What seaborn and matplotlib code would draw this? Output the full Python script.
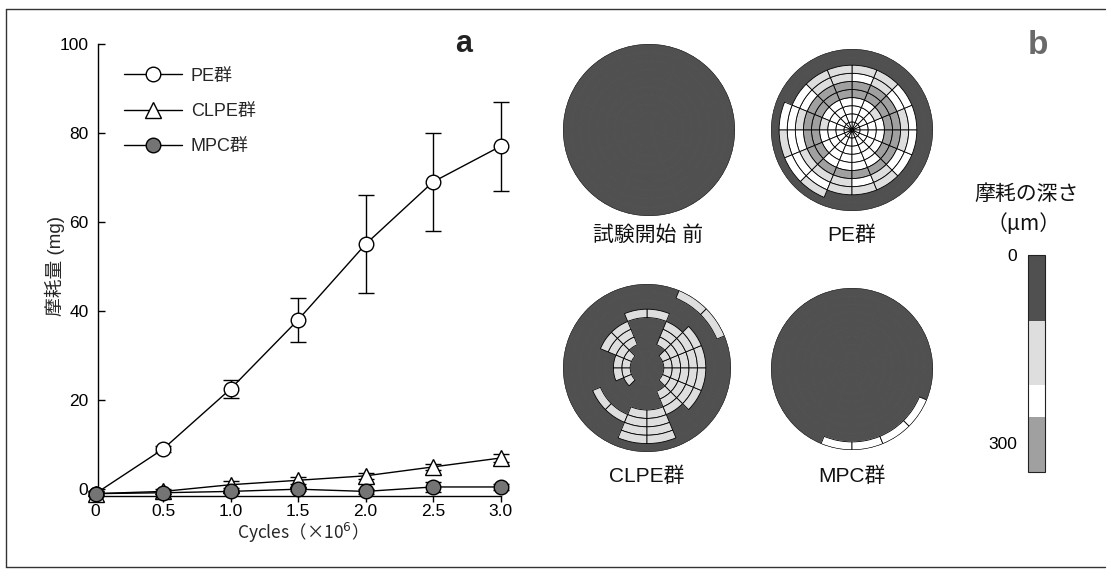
import numpy as np
import pandas as pd
import seaborn as sns
import matplotlib.pyplot as plt
from matplotlib.colors import ListedColormap, BoundaryNorm
from matplotlib.lines import Line2D

# --- panel a: wear amount vs cycles ---
cycles = [0, 0.5, 1.0, 1.5, 2.0, 2.5, 3.0]
groups = ['PE群', 'CLPE群', 'MPC群']
pe_mean = [-1.0, 9.0, 22.5, 38.0, 55.0, 69.0, 77.0]
pe_err = [0.5, 0.6, 2.0, 5.0, 11.0, 11.0, 10.0]
clpe_mean = [-1.0, -0.5, 1.0, 2.0, 3.0, 5.0, 7.0]
clpe_err = [0.5, 0.6, 0.8, 0.8, 0.6, 0.7, 0.8]
mpc_mean = [-1.0, -0.8, -0.5, 0.0, -0.5, 0.5, 0.5]
mpc_err = [0.3, 0.3, 0.4, 0.5, 0.5, 1.2, 0.6]

# --- panel b: wear depth maps (rings from centre out, 16 sectors ccw from east) ---
# d = 0-105 um, l = 105-208, w = 208-258, m = 258-346
depth_bounds = [0, 105, 208, 258, 346]
depth_colors = ['#505050', '#dedede', '#ffffff', '#a0a0a0']
depth_code = {'d': 50, 'l': 155, 'w': 233, 'm': 300}

before_map = ['dddddddddddddddd'] * 10
pe_map = [
    'wwwwwwwwwwwwwwww',
    'wwwwwwwwwwwwwwww',
    'wwwwwwwwwwwwwwww',
    'wlwwwwwlwwwwwwww',
    'mmmmmmmmmmwwwwmm',
    'mmmmmmmmmmmmmmmm',
    'lwlwllwlwlllwlwl',
    'wwllllwwwwwlllww',
    'dddddddwlwlddddd',
    'dddddddddddddddd',
]
clpe_map = [
    'dddddddddddddddd',
    'dddddddddddddddd',
    'llddddllllddddll',
    'lllddllllddddlll',
    'lllddllddddddlll',
    'lllddllddddlllll',
    'lldllddddlllldll',
    'dddddddddddllddd',
    'dddddddddddllddd',
    'dllddddddddddddd',
]
mpc_map = [
    'dddddddddddddddd',
    'dddddddddddddddd',
    'dddddddddddddddd',
    'dddddddddddddddd',
    'dddddddddddddddd',
    'dddddddddddddddd',
    'dddddddddddddddd',
    'dddddddddddddddd',
    'dddddddddddddddd',
    'dddddddddddwwwwd',
]
map_titles = ['試験開始 前', 'PE群', 'CLPE群', 'MPC群']

sns.set_theme(style='ticks')
plt.rcParams['font.family'] = ['Liberation Sans', 'Noto Sans CJK JP', 'DejaVu Sans']
cjk = ['Noto Sans CJK JP', 'DejaVu Sans']

W, H = 1111, 577
fig = plt.figure(figsize=(W / 100, H / 100), dpi=100)


def px_rect(left, top, width, height):
    return [left / W, 1 - (top + height) / H, width / W, height / H]


def px_text(x, y, s, **kw):
    fig.text(x / W, 1 - y / H, s, ha='center', va='center', **kw)


# outer frame
for xs, ys in [([6, 1105], [9, 9]), ([6, 1105], [567, 567]), ([6, 6], [9, 567])]:
    fig.add_artist(Line2D([x / W for x in xs], [1 - y / H for y in ys],
                          color='#333333', lw=1.0))

ax = fig.add_axes(px_rect(82, 35, 432, 472))
df = pd.DataFrame({
    'cycles': cycles * 3,
    'wear': pe_mean + clpe_mean + mpc_mean,
    'err': pe_err + clpe_err + mpc_err,
    'group': [g for g in groups for _ in cycles],
})
styles = {
    'PE群': dict(marker='o', markerfacecolor='white', markersize=10.5),
    'CLPE群': dict(marker='^', markerfacecolor='white', markersize=11),
    'MPC群': dict(marker='o', markerfacecolor='#747474', markersize=10.5),
}
for g in groups:
    sub = df[df['group'] == g]
    ax.errorbar(sub['cycles'], sub['wear'], yerr=sub['err'], fmt='none',
                ecolor='black', elinewidth=1, capsize=6, capthick=1, zorder=2,
                clip_on=False)
    sns.lineplot(data=sub, x='cycles', y='wear', ax=ax, color='black', lw=1,
                 markeredgecolor='black', markeredgewidth=1, label=g,
                 zorder=3, clip_on=False, **styles[g])

ax.set_xlim(-0.1, 3.1)
ax.set_ylim(-4, 102)
ax.set_xticks(cycles)
ax.set_xticklabels(['0', '0.5', '1.0', '1.5', '2.0', '2.5', '3.0'])
ax.set_yticks([0, 20, 40, 60, 80, 100])
ax.spines['top'].set_visible(False)
ax.spines['right'].set_visible(False)
ax.spines['left'].set_position(('data', 0.02))
ax.spines['left'].set_bounds(-1.5, 100)
ax.spines['bottom'].set_position(('data', -1.5))
ax.spines['bottom'].set_bounds(0.02, 3.0)
for sp in ax.spines.values():
    sp.set_color('black')
    sp.set_linewidth(1)
ax.tick_params(axis='y', direction='in', length=5, width=1, pad=7,
               labelsize=12.5, colors='black')
ax.tick_params(axis='x', direction='out', length=4, width=1, pad=2,
               labelsize=12.5, colors='black')
ax.set_xlabel('Cycles（×10$^{6}$）', fontsize=12.5, labelpad=1, family=cjk)
ax.set_ylabel('摩耗量 (mg)', fontsize=13.5)
ax.yaxis.set_label_coords(-0.04, 0.51)
ax.legend(loc='upper left', bbox_to_anchor=(0.06, 0.965), frameon=False,
          fontsize=13, handlelength=3.2, labelspacing=1.0, handletextpad=0.5)
ax.text(464 / W, 1 - 44 / H, 'a', transform=fig.transFigure, fontsize=22,
        fontweight='bold', ha='center', va='center', color='#222222')

# --- panel b ---
cmap = ListedColormap(depth_colors)
norm = BoundaryNorm(depth_bounds, cmap.N)
n_sec, n_ring = 16, 10
theta_w = 2 * np.pi / n_sec
ring_w = 1.0 / n_ring
rim = np.linspace(0, 2 * np.pi, 361)


def draw_map(rect, rows):
    pax = fig.add_axes(rect, projection='polar')
    z = np.array([[depth_code[c] for c in row] for row in rows], float)
    ii, jj = np.meshgrid(np.arange(n_ring), np.arange(n_sec), indexing='ij')
    th = (jj.ravel() + 0.5) * theta_w
    bot = ii.ravel() * ring_w
    vals = z.ravel()
    cols = cmap(norm(vals))
    pax.bar(th, ring_w, width=theta_w, bottom=bot, color=cols,
            edgecolor=cols, linewidth=0.6, align='center')
    worn = vals >= depth_bounds[1]
    if worn.any():
        pax.bar(th[worn], ring_w, width=theta_w, bottom=bot[worn],
                color=cols[worn], edgecolor='black', linewidth=0.6,
                align='center')
    pax.plot(rim, np.ones_like(rim), color='#2a2a2a', lw=0.8, zorder=5)
    pax.set_ylim(0, 1)
    pax.set_xticks([])
    pax.set_yticks([])
    pax.tick_params(which='both', length=0)
    pax.grid(False)
    for sp in pax.spines.values():
        sp.set_visible(False)
    return pax


map_boxes = [(563, 44, 172), (771, 49, 162), (563, 284, 168), (771, 288, 162)]
map_label_pos = [(648, 235), (852, 235), (647, 476), (852, 476)]
for (l, t, s), rows, title, (tx, ty) in zip(map_boxes,
                                            [before_map, pe_map, clpe_map, mpc_map],
                                            map_titles, map_label_pos):
    draw_map(px_rect(l, t, s, s), rows)
    px_text(tx, ty, title, fontsize=15, color='#111111')

cax = fig.add_axes(px_rect(1028, 255, 17, 217))
sm = plt.cm.ScalarMappable(norm=norm, cmap=cmap)
cb = fig.colorbar(sm, cax=cax, ticks=[0, 300], spacing='proportional')
cb.minorticks_off()
cax.invert_yaxis()
cax.yaxis.set_ticks_position('left')
cax.tick_params(which='both', length=0, labelsize=12.5, pad=8, colors='black',
                right=False)
cb.outline.set_edgecolor('#222222')
cb.outline.set_linewidth(0.8)
px_text(1027, 194, '摩耗の深さ', fontsize=15, color='#111111')
px_text(1024, 224, '（μm）', fontsize=15, color='#111111', family=cjk)
px_text(1038, 45, 'b', fontsize=24, fontweight='bold', color='#6a6a6a')

fig.savefig('out.png', dpi=100)
